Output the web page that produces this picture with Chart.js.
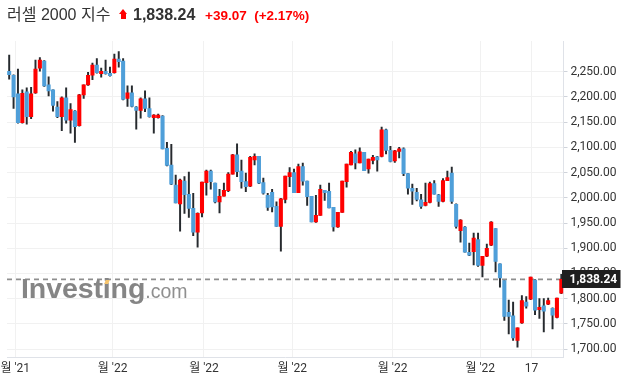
<!DOCTYPE html>
<html><head><meta charset="utf-8">
<script src="https://cdn.jsdelivr.net/npm/chart.js@4/dist/chart.umd.min.js"></script>
<style>
html,body{margin:0;padding:0;background:#fff;width:625px;height:387px;overflow:hidden}
#wrap{position:relative;width:625px;height:387px}
#c{position:absolute;left:0;top:0}
.t{position:absolute;white-space:nowrap;font-family:"Liberation Sans",Arial,"Noto Sans CJK KR",sans-serif}
#name{left:7px;top:5px;font-size:16px;line-height:20px;color:#333}
#price{left:133px;top:5px;font-size:16px;line-height:20px;font-weight:bold;color:#333}
#chg{left:205px;top:6px;font-size:13.5px;line-height:20px;font-weight:bold;color:#f00}
#arrow{position:absolute;left:119px;top:9px;width:9px;height:11px}
#arrow .tri{position:absolute;left:0;top:0;width:0;height:0;border-left:4.5px solid transparent;border-right:4.5px solid transparent;border-bottom:5px solid #f00}
#arrow .stem{position:absolute;left:2px;top:5px;width:5px;height:5px;background:#f00}
#wm{position:absolute;left:21px;top:272px;white-space:nowrap;font-family:"Liberation Sans",Arial,sans-serif;color:#858585;z-index:2}
#wm .a{font-size:28.5px;font-weight:bold;letter-spacing:-0.1px}
#wm .b{font-size:19.5px;color:#8f8f8f}
#dot{position:absolute;left:105px;top:280px;width:4px;height:4px;background:#f6c46c;transform:skewX(-20deg);z-index:3}
</style></head>
<body><div id="wrap">
<canvas id="c" width="625" height="387"></canvas>
<div class="t" id="name">러셀 2000 지수</div>
<div id="arrow"><div class="tri"></div><div class="stem"></div></div>
<div class="t" id="price">1,838.24</div>
<div class="t" id="chg">+39.07 &nbsp;(+2.17%)</div>
<div id="wm"><span class="a">Investing</span><span class="b">.com</span></div>
<div id="dot"></div>
</div>
<script>
// OHLC values (daily candles, oldest first)
const opens  = [2251,2243,2206,2149,2210,2161,2208,2257,2271,2224,2214,2180,2161,2198,2154,2172,2143,2204,2224,2243,2263,2246,2251,2247,2248,2275,2271,2197,2208,2180,2173,2196,2177,2159,2159,2162,2098,2065,2025,1988,2033,2007,
1979,1932,1970,2030,2053,2029,1992,2003,2014,2047,2085,2053,2032,2023,2075,2082,2030,2005,2011,1983,1943,1997,2042,2050,2010,2062,2033,2003,1952,1965,2015,2013,1981,1942,1971,2032,2065,2087,2069,2090,2057,2074,
2081,2082,2135,2094,2073,2092,2097,2048,2019,2011,1996,1985,1991,2028,2006,1993,2034,2049,1987,1935,1942,1892,1893,1917,1866,1884,1906,1939,1869,1836,1773,1766,1717,1752,1793,1799,1837,1778,1786,1789,1781,1763,1811];
const highs  = [2283,2244,2255,2214,2218,2219,2273,2278,2272,2240,2214,2191,2200,2218,2187,2173,2205,2224,2249,2267,2276,2257,2273,2259,2285,2290,2276,2222,2222,2181,2198,2212,2198,2165,2166,2163,2110,2106,2045,2037,2042,2051,
2009,1970,2031,2055,2055,2029,2017,2029,2050,2086,2107,2075,2049,2082,2087,2082,2039,2009,2017,1992,1999,2043,2060,2057,2067,2069,2033,2003,2005,2025,2015,2029,1981,1971,2033,2067,2092,2095,2099,2090,2077,2084,
2082,2140,2136,2102,2094,2100,2099,2048,2027,2019,2007,2029,2031,2034,2007,2038,2053,2061,1988,1957,1943,1910,1930,1930,1884,1908,1953,1939,1869,1836,1797,1793,1742,1806,1804,1843,1838,1800,1800,1801,1782,1801,1848];
const lows   = [2235,2177,2148,2148,2146,2157,2207,2251,2221,2202,2172,2159,2133,2148,2128,2110,2142,2197,2223,2234,2247,2239,2245,2241,2247,2259,2194,2181,2180,2136,2158,2171,2160,2128,2158,2097,2063,2026,1990,1934,1969,1961,
1925,1902,1962,2005,2017,1990,1970,2003,2012,2047,2042,2019,2012,2022,2065,2028,2007,1975,1972,1943,1894,1990,2022,2010,2010,2025,1985,1952,1951,1965,1995,1980,1934,1941,1971,2021,2065,2057,2069,2054,2049,2067,
2053,2081,2087,2071,2070,2079,2044,2007,1987,1994,1979,1984,1990,2007,1983,1992,2034,1989,1940,1912,1892,1885,1867,1864,1843,1883,1905,1853,1823,1757,1730,1717,1704,1751,1781,1798,1768,1761,1734,1788,1740,1762,1810];
const closes = [2244,2200,2149,2207,2161,2206,2255,2273,2222,2212,2183,2161,2198,2154,2175,2141,2204,2224,2243,2263,2248,2251,2246,2242,2275,2270,2195,2208,2181,2173,2196,2177,2161,2164,2164,2097,2064,2027,1990,2035,2006,1979,
1932,1969,2031,2053,2032,1992,2003,2015,2047,2085,2052,2032,2022,2080,2082,2029,2009,1981,1982,1943,1998,2043,2050,2010,2062,2033,2002,1952,1965,2017,2010,1980,1942,1971,2033,2067,2090,2069,2091,2054,2077,2080,
2075,2135,2094,2072,2093,2097,2048,2019,2013,1997,1983,1991,2028,2007,1993,2034,2040,1993,1943,1956,1892,1886,1920,1866,1884,1900,1952,1874,1841,1765,1765,1722,1742,1796,1785,1843,1777,1783,1775,1796,1767,1801,1838.24];
// x-axis tick labels and the candle index at which each falls
const tickLabels = ["월 '21","월 '22","월 '22","월 '22","월 '22","월 '22","17"];
const tickAt     = [1.37, 23.6, 44.45, 64.6, 87.5, 107.5, 119.2];
const yTicks     = [1700,1750,1800,1850,1900,1950,2000,2050,2100,2150,2200,2250];
const lastPrice  = 1838.24;

const RED = '#ff0000', BLUE = '#4f9fd9', WICK = '#262a2e';
const idx = opens.map((_, i) => i);
const up = i => closes[i] >= opens[i];
const fmt = v => v.toLocaleString('en-US', {minimumFractionDigits: 2, maximumFractionDigits: 2});
const tickFont = {family: 'Roboto, "Noto Sans CJK KR", sans-serif', size: 12};

const priceLine = {
  id: 'priceLine',
  beforeDatasetsDraw(chart) {
    const {ctx, chartArea} = chart;
    const y = chart.scales.y.getPixelForValue(lastPrice);
    ctx.save();
    ctx.strokeStyle = '#8e8e8e';
    ctx.lineWidth = 1.6;
    ctx.setLineDash([5, 4]);
    ctx.beginPath();
    ctx.moveTo(chartArea.left, y);
    ctx.lineTo(chartArea.right, y);
    ctx.stroke();
    ctx.restore();
  },
  afterDraw(chart) {
    const {ctx} = chart;
    const s = chart.scales.y;
    const y = s.getPixelForValue(lastPrice);
    ctx.save();
    ctx.fillStyle = '#1f1f1f';
    ctx.fillRect(s.left - 1.5, Math.round(y) - 9, 58.5, 18);
    ctx.fillStyle = '#fff';
    ctx.font = 'bold 12px Roboto, sans-serif';
    ctx.textAlign = 'left';
    ctx.textBaseline = 'middle';
    ctx.fillText(fmt(lastPrice), s.left + 6, Math.round(y) + 0.5);
    ctx.restore();
  }
};

new Chart(document.getElementById('c'), {
  type: 'bar',
  data: {
    datasets: [
      {
        label: 'body',
        data: idx.map(i => ({x: i, y: [opens[i], closes[i]]})),
        backgroundColor: idx.map(i => up(i) ? RED : BLUE),
        barThickness: 3.4,
        minBarLength: 1.2,
        grouped: false,
        borderWidth: 0,
        borderSkipped: false
      },
      {
        label: 'wick',
        data: idx.map(i => ({x: i, y: [lows[i], highs[i]]})),
        backgroundColor: WICK,
        barThickness: 1.3,
        grouped: false,
        borderWidth: 0,
        borderSkipped: false
      }
    ]
  },
  options: {
    responsive: false,
    animation: false,
    devicePixelRatio: 1,
    layout: {padding: {left: 7, top: 41, right: 0, bottom: 0}},
    plugins: {legend: {display: false}, tooltip: {enabled: false}},
    scales: {
      x: {
        type: 'linear',
        min: -0.5, max: opens.length - 0.5,
        offset: false,
        grid: {offset: false, color: '#f1f1f1', drawTicks: false},
        border: {color: '#dfe2e8'},
        ticks: {
          padding: 5, autoSkip: false, maxRotation: 0, minRotation: 0,
          color: '#333', font: tickFont,
          callback: (v, i) => tickLabels[i]
        },
        afterBuildTicks: s => { s.ticks = tickAt.map(v => ({value: v})); },
        afterFit: s => { s.paddingLeft = 0; s.paddingRight = 0; s.height = 30; }
      },
      y: {
        position: 'right',
        min: 1684.3, max: 2310.9,
        grid: {color: '#f1f1f1', tickLength: 4, tickColor: '#cfd3da'},
        border: {color: '#dfe2e8'},
        ticks: {padding: 3, color: '#333', font: tickFont, callback: v => fmt(v)},
        afterBuildTicks: s => { s.ticks = yTicks.map(v => ({value: v})); },
        afterFit: s => { s.width = 61.5; s.paddingTop = 0; s.paddingBottom = 0; }
      }
    }
  },
  plugins: [priceLine]
});
</script>
</body></html>
